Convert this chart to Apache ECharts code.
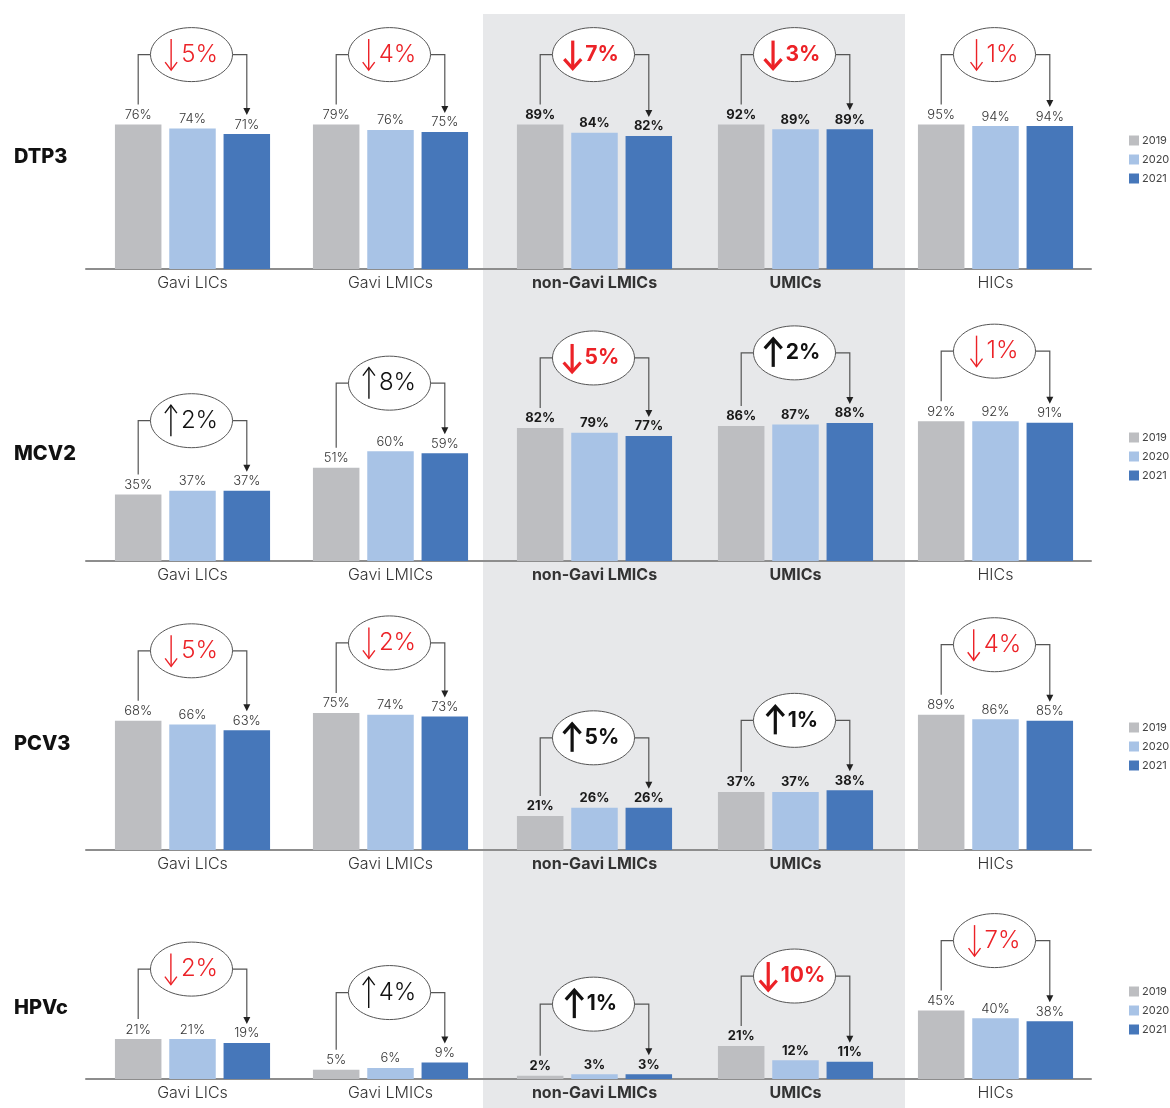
<!DOCTYPE html>
<html><head><meta charset="utf-8">
<script src="https://cdn.jsdelivr.net/npm/echarts@6/dist/echarts.min.js"></script>
<style>html,body{margin:0;padding:0;background:#fff}#c{width:1170px;height:1108px}</style>
</head><body><div id="c"></div>
<script>
// ---------- DATA ----------
const groups = ['Gavi LICs', 'Gavi LMICs', 'non-Gavi LMICs', 'UMICs', 'HICs'];
const vaccines = ['DTP3', 'MCV2', 'PCV3', 'HPVc'];
const years = ['2019', '2020', '2021'];
// values per group: [2019, 2020, 2021]
const dtp3 = [[76, 74, 71], [79, 76, 75], [89, 84, 82], [92, 89, 89], [95, 94, 94]];
const mcv2 = [[35, 37, 37], [51, 60, 59], [82, 79, 77], [86, 87, 88], [92, 92, 91]];
const pcv3 = [[68, 66, 63], [75, 74, 73], [21, 26, 26], [37, 37, 38], [89, 86, 85]];
const hpvc = [[21, 21, 19], [5, 6, 9], [2, 3, 3], [21, 12, 11], [45, 40, 38]];
// change 2019 -> 2021 shown in the bubbles
const dtp3Change = [-5, -4, -7, -3, -1];
const mcv2Change = [2, 8, -5, 2, -1];
const pcv3Change = [-5, -2, 5, 1, -4];
const hpvcChange = [-2, 4, 1, -10, -7];

const values = [dtp3, mcv2, pcv3, hpvc];
const changes = [dtp3Change, mcv2Change, pcv3Change, hpvcChange];

// ---------- STYLE / LAYOUT ----------
const FONT = 'Inter, Lato, "Noto Sans", sans-serif';
const colors = ['#bdbec1', '#a8c3e6', '#4677ba'];
const RED = '#ec2227';
const TEXT = '#333333';
const LINE = '#555555';
const baselines = [269, 561, 850, 1079];
const rowLabelY = [157, 454, 744, 1008];
const groupLeft = [111, 309, 513, 714, 914];
const GROUP_W = 163;
const PLOT_H = 152;
const BAR_W = 46.5;
const BAR_GAP = 7.8;
const boldCols = [false, false, true, true, false];

// per-column scale: tallest value of each column fills 95% of plot height
const colMax = groups.map((g, c) => Math.max(...values.map(rv => Math.max(...rv[c]))) / 0.95);

const grid = [], xAxis = [], yAxis = [], series = [];
values.forEach((rowVals, r) => {
  groups.forEach((g, c) => {
    const gi = r * 5 + c;
    grid.push({left: groupLeft[c], width: GROUP_W, top: baselines[r] - PLOT_H, height: PLOT_H});
    xAxis.push({
      type: 'category', gridIndex: gi, data: [g],
      axisLine: {show: false}, axisTick: {show: false},
      axisLabel: {fontFamily: FONT, fontSize: 16, color: TEXT, margin: 6,
        fontWeight: boldCols[c] ? 700 : 300}
    });
    yAxis.push({type: 'value', gridIndex: gi, min: 0, max: colMax[c], show: false, splitLine: {show: false}});
    years.forEach((y, k) => {
      series.push({
        type: 'bar', name: y, xAxisIndex: gi, yAxisIndex: gi,
        data: [rowVals[c][k]],
        barWidth: BAR_W, barGap: (BAR_GAP / BAR_W * 100).toFixed(1) + '%',
        itemStyle: {color: colors[k]},
        label: {show: true, position: 'top', distance: 3, formatter: '{c}%',
          fontFamily: FONT, fontSize: 13, color: boldCols[c] ? '#1a1a1a' : TEXT,
          fontWeight: boldCols[c] ? 700 : 300},
        emphasis: {disabled: true},
        animation: false
      });
    });
  });
});
// row baseline axes
values.forEach((rv, r) => {
  const gi = grid.length;
  grid.push({left: 86, width: 1005, top: baselines[r] - 10, height: 10});
  xAxis.push({type: 'value', gridIndex: gi, min: 0, max: 1,
    axisLine: {show: true, lineStyle: {color: '#8d8d8d', width: 2}},
    axisTick: {show: false}, axisLabel: {show: false}, splitLine: {show: false}});
  yAxis.push({type: 'value', gridIndex: gi, min: 0, max: 1, show: false, splitLine: {show: false}});
});

const legend = vaccines.map((v, r) => ({
  data: years, orient: 'vertical', left: 1124, top: rowLabelY[r] - 27,
  icon: 'rect', itemWidth: 10, itemHeight: 10, itemGap: 8, selectedMode: false,
  textStyle: {fontFamily: FONT, fontSize: 11, color: '#444', padding: [0, 0, 0, -2]}
}));

const chart = echarts.init(document.getElementById('c'), null, {renderer: 'canvas'});
chart.setOption({
  backgroundColor: '#ffffff',
  animation: false,
  grid, xAxis, yAxis, series, legend
});

// ---------- ANNOTATIONS ----------
const ctx = document.createElement('canvas').getContext('2d');
function measure(t, size, weight) { ctx.font = weight + ' ' + size + 'px ' + FONT; return ctx.measureText(t).width; }

const gfx = [];
gfx.push({type: 'rect', z: -10, silent: true, shape: {x: 483, y: 14, width: 422, height: 1094}, style: {fill: '#e7e8ea'}});
vaccines.forEach((v, r) => {
  gfx.push({type: 'text', z: 10, x: 14, y: rowLabelY[r], style: {text: v, fontFamily: FONT, fontSize: 20, fontWeight: 800,
    fill: '#111', textVerticalAlign: 'middle', verticalAlign: 'middle'}});
});

values.forEach((rowVals, r) => {
  groups.forEach((g, c) => {
    const gi = r * 5 + c;
    const cxBand = chart.convertToPixel({xAxisIndex: gi}, g);
    const pitch = BAR_W + BAR_GAP;
    const x1 = cxBand - pitch, x3 = cxBand + pitch;
    const t1 = chart.convertToPixel({yAxisIndex: gi}, rowVals[c][0]);
    const t3 = chart.convertToPixel({yAxisIndex: gi}, rowVals[c][2]);
    const cy = Math.min(t1, t3) - 70;
    const cx = cxBand - 1;
    const rx = 41, ry = 27;
    const ch = changes[r][c];
    const bold = boldCols[c];
    const col = ch < 0 ? RED : '#111';
    // brackets
    gfx.push({type: 'polyline', z: 20, shape: {points: [[x1, t1 - 20], [x1, cy], [cx - rx, cy]]},
      style: {stroke: LINE, lineWidth: 1.2, fill: null}});
    gfx.push({type: 'polyline', z: 20, shape: {points: [[cx + rx, cy], [x3, cy], [x3, t3 - 25]]},
      style: {stroke: LINE, lineWidth: 1.2, fill: null}});
    gfx.push({type: 'polygon', z: 20, shape: {points: [[x3 - 3.5, t3 - 26], [x3 + 3.5, t3 - 26], [x3, t3 - 19]]},
      style: {fill: '#222'}});
    // bubble
    gfx.push({type: 'ellipse', z: 21, shape: {cx: cx, cy: cy, rx: rx, ry: ry},
      style: {fill: '#fff', stroke: LINE, lineWidth: 1}});
    const txt = Math.abs(ch) + '%';
    const fs = bold ? 21 : 24;
    const fw = bold ? 700 : 300;
    const tw = measure(txt, fs, fw);
    const aw = bold ? 17 : 12;
    const gap = 4;
    const total = aw + gap + tw;
    const start = cx - total / 2 - (bold ? 2 : 0);
    const ax = start + aw / 2;
    const ah = bold ? 28 : 31;
    const dir = ch < 0 ? 1 : -1; // 1 = down
    const yTip = cy + dir * ah / 2, yTail = cy - dir * ah / 2;
    const hw = bold ? 8.5 : 6, hl = bold ? 9.5 : 8;
    const lw = bold ? 3.2 : 1.4;
    gfx.push({type: 'line', z: 22, shape: {x1: ax, y1: yTail, x2: ax, y2: yTip},
      style: {stroke: col, lineWidth: lw}});
    gfx.push({type: 'polyline', z: 22, shape: {points: [[ax - hw, yTip - dir * hl], [ax, yTip], [ax + hw, yTip - dir * hl]]},
      style: {stroke: col, lineWidth: lw, fill: null, lineJoin: 'miter'}});
    gfx.push({type: 'text', z: 22, x: start + aw + gap, y: cy,
      style: {text: txt, fontFamily: FONT, fontSize: fs, fontWeight: fw, fill: col,
        textVerticalAlign: 'middle', verticalAlign: 'middle', textAlign: 'left', align: 'left'}});
  });
});
chart.setOption({graphic: gfx});
</script>
</body></html>
